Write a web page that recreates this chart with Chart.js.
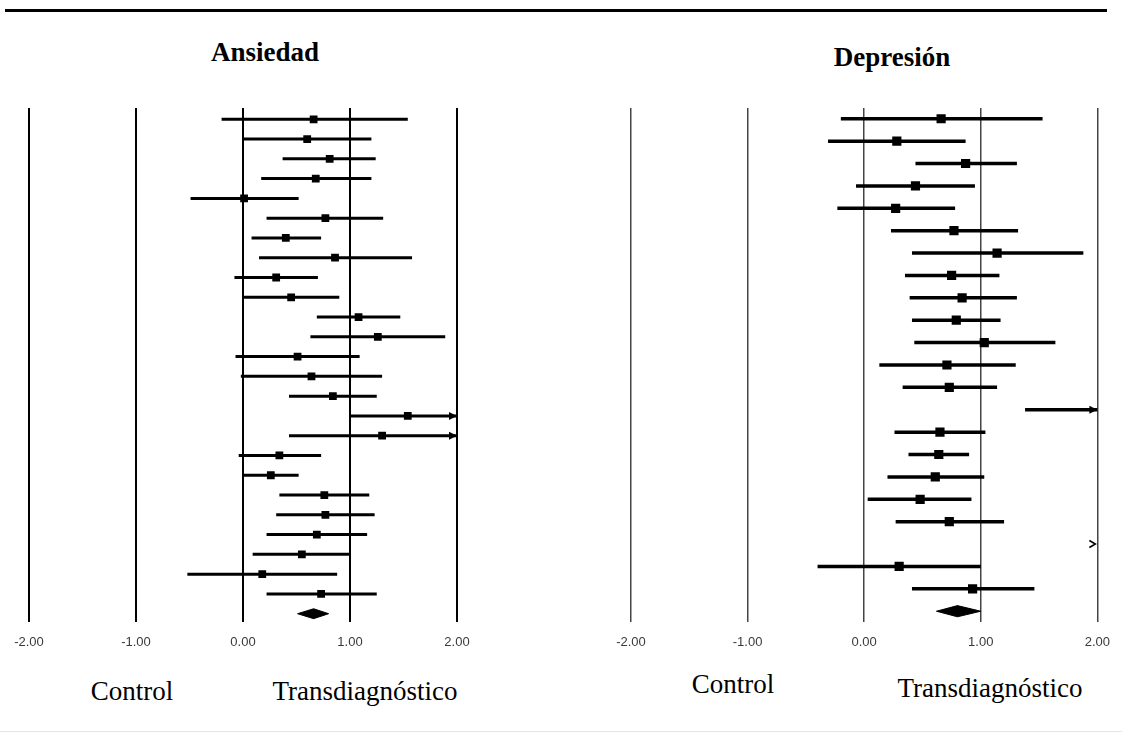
<!DOCTYPE html>
<html>
<head>
<meta charset="utf-8">
<script src="https://cdn.jsdelivr.net/npm/chart.js@4.4.0/dist/chart.umd.min.js"></script>
<style>
  html, body { margin: 0; padding: 0; background: #fff; }
  #page { position: relative; width: 1122px; height: 734px; overflow: hidden; }
  canvas { position: absolute; }
  .rule { position: absolute; left: 5px; width: 1102px; top: 9px; height: 3px; background: #000; }
  .rule-bottom { position: absolute; left: 0; width: 1122px; top: 731px; height: 1px; background: #e6e6e6; }
  .lbl { position: absolute; width: 300px; text-align: center; white-space: nowrap; color: #000;
         font-family: 'Liberation Serif', 'Times New Roman', serif; font-size: 27px; line-height: 27px; }
  .ttl { font-weight: bold; }
</style>
</head>
<body>
<div id="page">
  <div class="rule"></div>
  <div class="rule-bottom"></div>

  <div class="lbl ttl" style="left:115px; top:39px">Ansiedad</div>
  <div class="lbl ttl" style="left:742px; top:44px">Depresión</div>

  <canvas id="ansiedad" width="561" height="662" style="left:0; top:0"></canvas>
  <canvas id="depresion" width="542" height="662" style="left:580px; top:0"></canvas>

  <div class="lbl" style="left:-18px; top:678px">Control</div>
  <div class="lbl" style="left:215px; top:678px">Transdiagnóstico</div>
  <div class="lbl" style="left:583px; top:671px">Control</div>
  <div class="lbl" style="left:840px; top:675px">Transdiagnóstico</div>
</div>

<script>
/* ── Data (effect sizes) ───────────────────────────────────── */
const xTicks = [-2, -1, 0, 1, 2];

// Ansiedad: 25 studies, top to bottom
const ansLo  = [-0.20, 0.00, 0.37, 0.17, -0.49, 0.22, 0.08, 0.15, -0.08, 0.00, 0.69, 0.63, -0.07,
                -0.02, 0.43, 1.00, 0.43, -0.04, 0.00, 0.34, 0.31, 0.22, 0.09, -0.52, 0.22];
const ansEst = [0.66, 0.60, 0.81, 0.68, 0.01, 0.77, 0.40, 0.86, 0.31, 0.45, 1.08, 1.26, 0.51,
                0.64, 0.84, 1.54, 1.30, 0.34, 0.26, 0.76, 0.77, 0.69, 0.55, 0.18, 0.73];
const ansHi  = [1.54, 1.20, 1.24, 1.20, 0.52, 1.31, 0.73, 1.58, 0.70, 0.90, 1.47, 1.89, 1.09,
                1.30, 1.25, 2.35, 2.20, 0.73, 0.52, 1.18, 1.23, 1.16, 1.00, 0.88, 1.25];
const ansPooled = [0.51, 0.66, 0.80];   // lo, est, hi

// Depresión: 22 studies, top to bottom
const depLo  = [-0.20, -0.31, 0.44, -0.07, -0.23, 0.23, 0.41, 0.35, 0.39, 0.41, 0.43,
                0.13, 0.33, 1.38, 0.26, 0.38, 0.20, 0.03, 0.27, 2.10, -0.40, 0.41];
const depEst = [0.66, 0.28, 0.87, 0.44, 0.27, 0.77, 1.14, 0.75, 0.84, 0.79, 1.03,
                0.71, 0.73, 2.25, 0.65, 0.64, 0.61, 0.48, 0.73, 2.60, 0.30, 0.93];
const depHi  = [1.53, 0.87, 1.31, 0.95, 0.78, 1.32, 1.88, 1.16, 1.31, 1.17, 1.64,
                1.30, 1.14, 3.10, 1.04, 0.90, 1.03, 0.92, 1.20, 3.10, 1.00, 1.46];
const depPooled = [0.62, 0.80, 1.00];

/* ── Arrows for intervals running past the axis ─────────────── */
function arrowPlugin(lo, hi) {
  return {
    id: 'offScaleArrows',
    afterDatasetsDraw(chart) {
      const xs = chart.scales.x, ys = chart.scales.y, ctx = chart.ctx;
      const tip = xs.getPixelForValue(xs.max);
      ctx.save();
      ctx.fillStyle = '#000';
      ctx.strokeStyle = '#000';
      lo.forEach((l, i) => {
        const py = ys.getPixelForValue(i);
        if (l > xs.max) {
          // whole interval off the scale: open chevron
          ctx.lineWidth = 1.6;
          ctx.beginPath();
          ctx.moveTo(tip - 8, py - 3.5);
          ctx.lineTo(tip - 2, py);
          ctx.lineTo(tip - 8, py + 3.5);
          ctx.stroke();
        } else if (hi[i] > xs.max) {
          ctx.beginPath();
          ctx.moveTo(tip, py);
          ctx.lineTo(tip - 8, py - 4);
          ctx.lineTo(tip - 8, py + 4);
          ctx.closePath();
          ctx.fill();
        }
      });
      ctx.restore();
    }
  };
}

/* ── One forest plot ────────────────────────────────────────── */
function forest(id, lo, est, hi, pooled, cfg) {
  const n = est.length;
  const ciSets = lo.map((l, i) => ({
    data: [{ x: l, y: i }, { x: hi[i], y: i }],
    showLine: true,
    borderColor: '#000',
    borderWidth: cfg.ciWidth,
    pointRadius: 0
  }));

  const pointSet = {
    data: est.map((v, i) => ({ x: v, y: i })),
    pointStyle: 'rect',
    pointRadius: cfg.box,
    backgroundColor: '#000',
    borderColor: '#000',
    borderWidth: 0
  };

  const diamond = {
    data: [
      { x: pooled[0], y: n }, { x: pooled[1], y: n - 0.25 },
      { x: pooled[2], y: n }, { x: pooled[1], y: n + 0.25 },
      { x: pooled[0], y: n }
    ],
    showLine: true,
    fill: 'shape',
    backgroundColor: '#000',
    borderColor: '#000',
    borderWidth: 1,
    pointRadius: 0
  };

  return new Chart(document.getElementById(id), {
    type: 'scatter',
    data: { datasets: [...ciSets, pointSet, diamond] },
    plugins: [arrowPlugin(lo, hi)],
    options: {
      responsive: false,
      animation: false,
      events: [],
      layout: { padding: cfg.padding },
      plugins: { legend: { display: false }, tooltip: { enabled: false } },
      scales: {
        x: {
          type: 'linear',
          min: xTicks[0],
          max: xTicks[xTicks.length - 1],
          afterBuildTicks: s => { s.ticks = xTicks.map(v => ({ value: v })); },
          ticks: {
            callback: v => v.toFixed(2),
            color: '#3a3a3a',
            font: { family: "'Liberation Sans', Arial, sans-serif", size: 13 },
            padding: 12,
            maxRotation: 0
          },
          grid: { color: cfg.gridColor, lineWidth: cfg.gridWidth, drawTicks: false },
          border: { display: false }
        },
        y: {
          type: 'linear',
          display: false,
          reverse: true,
          min: cfg.yMin,
          max: cfg.yMax
        }
      }
    }
  });
}

forest('ansiedad', ansLo, ansEst, ansHi, ansPooled, {
  padding: { left: 29, right: 104, top: 108, bottom: 0 },
  yMin: -0.57, yMax: 25.44,
  ciWidth: 3, box: 5.5,
  gridColor: '#000', gridWidth: 2
});

forest('depresion', depLo, depEst, depHi, depPooled, {
  padding: { left: 51, right: 22, top: 108, bottom: 0 },
  yMin: -0.48, yMax: 22.5,
  ciWidth: 3.5, box: 6.5,
  gridColor: '#444', gridWidth: 1.5
});
</script>
</body>
</html>
